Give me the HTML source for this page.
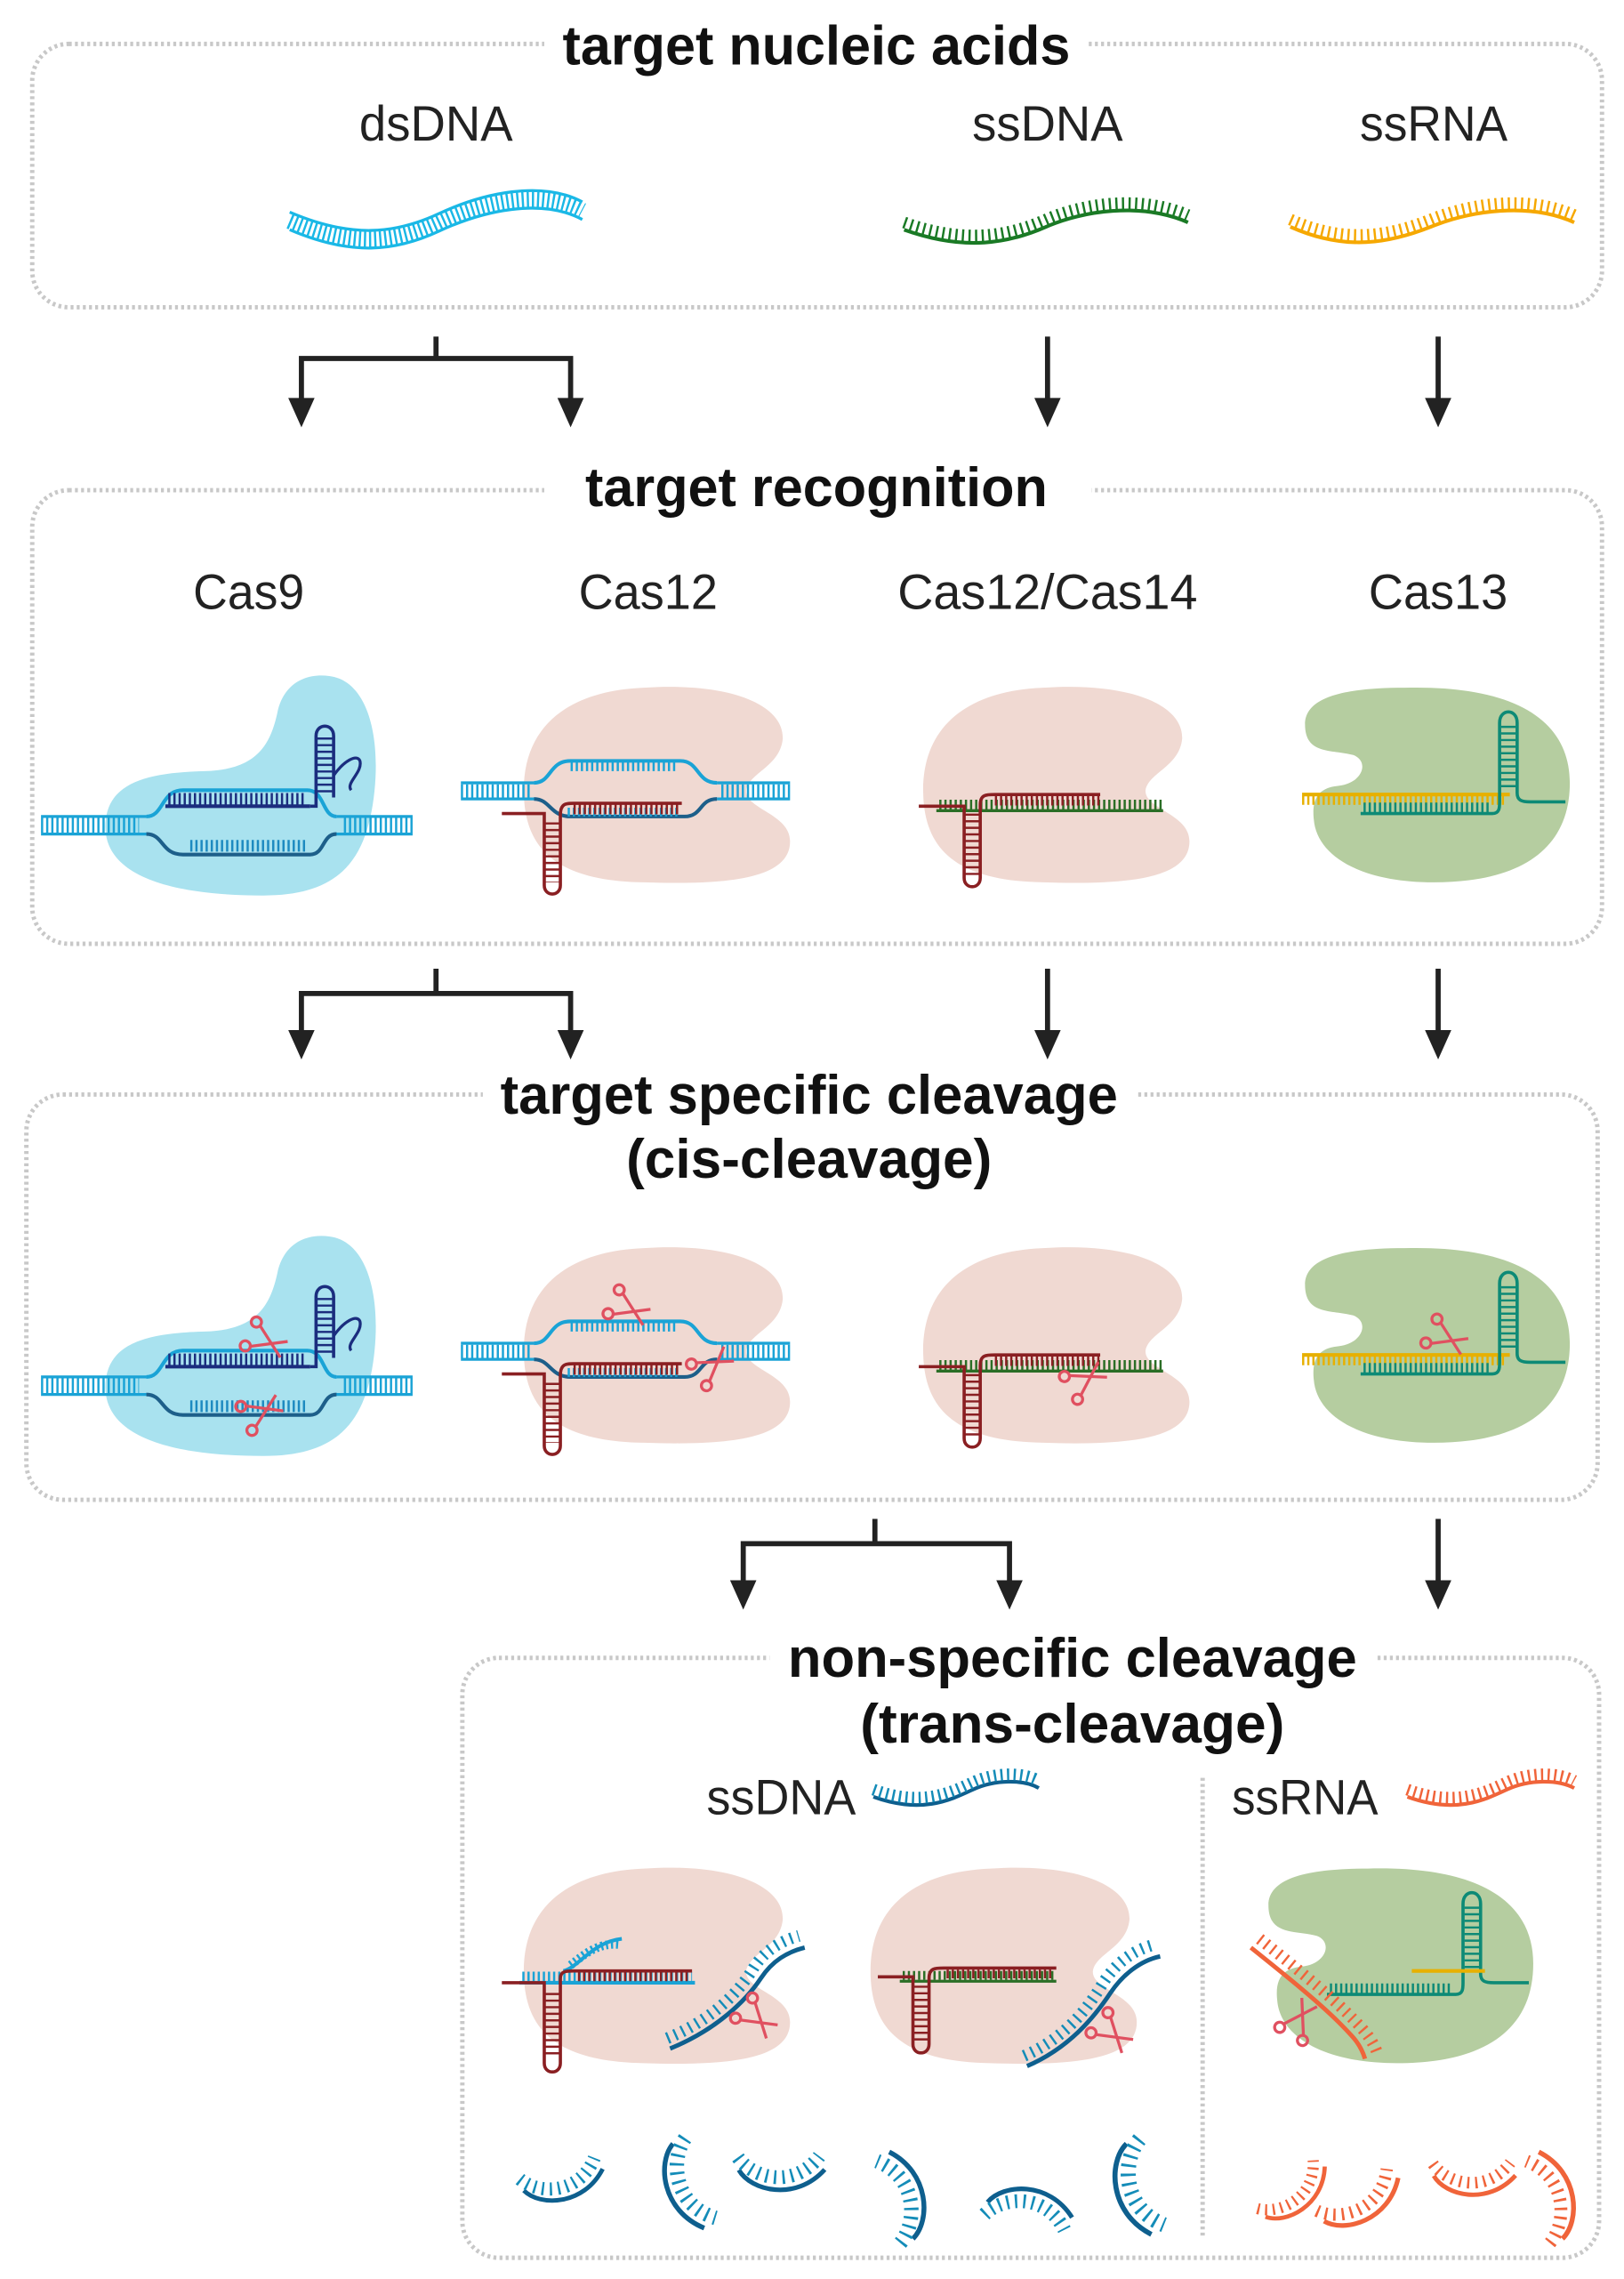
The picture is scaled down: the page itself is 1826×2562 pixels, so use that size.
<!DOCTYPE html>
<html><head><meta charset="utf-8"><style>
html,body{margin:0;padding:0;background:#fff}
svg{display:block}
.t{font-family:"Liberation Sans",sans-serif;font-weight:bold;font-size:38px;fill:#111}
.l{font-family:"Liberation Sans",sans-serif;font-size:34px;fill:#222}
.box{fill:none;stroke:#c8c8c8;stroke-width:3;stroke-dasharray:2 2.2}
.ar{stroke:#222;stroke-width:3.5;fill:none}
</style></head><body>
<svg width="1826" height="2562" viewBox="0 0 1110 1557.5" xmlns="http://www.w3.org/2000/svg">
<defs>
  <g id="scis" fill="none" stroke="#e05060" stroke-width="2">
    <line x1="-12" y1="-8" x2="10" y2="6"/><line x1="-12" y1="8" x2="10" y2="-6"/>
    <circle cx="-15" cy="-9" r="3.5"/><circle cx="-15" cy="9" r="3.5"/>
  </g>
  <path id="c12shape" d="M440 470 C500 466 536 482 535 505 C533 524 512 528 510 540 C509 553 540 556 540 575 C540 600 500 605 440 603 C380 602 358 580 358 540 C358 495 390 472 440 470 Z" fill="#f0d9d2"/>
  <path id="c9shape" d="M225 462 C250 465 260 500 256 540 C251 590 230 612 180 612 C120 612 72 600 72 565 C72 535 100 528 140 527 C175 526 185 510 190 485 C195 466 210 460 225 462 Z" fill="#a9e2ef"/>
  <path id="c13shape" d="M960 470 C1040 468 1073 495 1073 535 C1073 580 1040 603 980 603 C930 603 900 585 898 560 C896 542 905 538 915 537 C932 535 936 520 925 516 C910 512 892 516 892 495 C892 476 920 470 960 470 Z" fill="#b5cda0"/>

  <g id="cas9">
    <use href="#c9shape"/>
    <g stroke="#1aa3d6" fill="none">
      <line x1="28" y1="558" x2="100" y2="558" stroke-width="2"/><line x1="28" y1="570" x2="100" y2="570" stroke-width="2"/>
      <line x1="28" y1="564" x2="95" y2="564" stroke-width="10" stroke-dasharray="1.5 2"/>
      <line x1="230" y1="558" x2="282" y2="558" stroke-width="2"/><line x1="228" y1="570" x2="282" y2="570" stroke-width="2"/>
      <line x1="235" y1="564" x2="282" y2="564" stroke-width="10" stroke-dasharray="1.5 2"/>
      <path d="M100 558 C112 558 110 540 125 540 L210 540 C222 540 220 558 230 558" stroke-width="2.5"/>
      <path d="M100 570 C112 570 110 584 125 584 L212 584 C222 584 220 570 230 570" stroke="#1d5f8a" stroke-width="2.5"/>
      <line x1="130" y1="578" x2="210" y2="578" stroke="#1d8ac0" stroke-width="8" stroke-dasharray="1.5 2"/>
    </g>
    <g stroke="#1b2d7e" fill="none">
      <line x1="113" y1="551" x2="212" y2="551" stroke-width="2.5"/>
      <line x1="115" y1="546" x2="208" y2="546" stroke-width="8" stroke-dasharray="1.5 2"/>
      <path d="M212 551 L216 551 L216 503 C216 494 228 494 228 503 L228 545" stroke-width="2.2"/>
      <line x1="222" y1="504" x2="222" y2="542" stroke-width="10" stroke-dasharray="1.5 3"/>
      <path d="M228 530 C235 520 244 515 246 520 C248 528 236 535 240 540" stroke-width="2"/>
    </g>
  </g>
  <g id="cas12">
    <use href="#c12shape"/>
    <g stroke="#1aa3d6" fill="none">
      <line x1="315" y1="535" x2="365" y2="535" stroke-width="2"/><line x1="315" y1="546" x2="365" y2="546" stroke-width="2"/>
      <line x1="315" y1="540.5" x2="362" y2="540.5" stroke-width="9" stroke-dasharray="1.5 2"/>
      <line x1="490" y1="535" x2="540" y2="535" stroke-width="2"/><line x1="490" y1="546" x2="540" y2="546" stroke-width="2"/>
      <line x1="493" y1="540.5" x2="540" y2="540.5" stroke-width="9" stroke-dasharray="1.5 2"/>
      <path d="M365 535 C377 535 375 520 390 520 L465 520 C478 520 476 535 490 535" stroke-width="2.5"/>
      <line x1="390" y1="524" x2="462" y2="524" stroke-width="6" stroke-dasharray="1.5 2"/>
      <path d="M365 546 C376 546 376 558 390 558 L468 558 C480 558 478 546 490 546" stroke="#1d5f8a" stroke-width="2.5"/>
      <line x1="388" y1="555" x2="465" y2="555" stroke-width="6" stroke-dasharray="1.5 2"/>
    </g>
    <g stroke="#8a1f22" fill="none">
      <path d="M343 556 L372 556 L372 605 C372 613 383 613 383 605 L383 557 C383 549 387 549 392 549 L466 549" stroke-width="2.2"/>
      <line x1="377.5" y1="562" x2="377.5" y2="603" stroke-width="10" stroke-dasharray="1.5 3"/>
      <line x1="392" y1="553" x2="465" y2="553" stroke-width="7" stroke-dasharray="1.5 2"/>
    </g>
  </g>
  <g id="cas14">
    <use href="#c12shape" transform="translate(273 0)"/>
    <g stroke="#2b6e26" fill="none">
      <line x1="640" y1="554" x2="795" y2="554" stroke-width="2"/>
      <line x1="642" y1="550" x2="795" y2="550" stroke-width="7" stroke-dasharray="1.5 2"/>
    </g>
    <g stroke="#8a1f22" fill="none">
      <path d="M628 551 L659 551 L659 600 C659 608 670 608 670 600 L670 550 C670 543 674 543 680 543 L752 543" stroke-width="2.2"/>
      <line x1="664.5" y1="556" x2="664.5" y2="598" stroke-width="10" stroke-dasharray="1.5 3"/>
      <line x1="680" y1="547" x2="752" y2="547" stroke-width="7" stroke-dasharray="1.5 2"/>
    </g>
  </g>
  <g id="cas13">
    <use href="#c13shape"/>
    <g stroke="#e7b000" fill="none">
      <line x1="890" y1="543" x2="1032" y2="543" stroke-width="2.5"/>
      <line x1="890" y1="547" x2="1030" y2="547" stroke-width="6" stroke-dasharray="1.5 2"/>
    </g>
    <g stroke="#0d8a76" fill="none">
      <path d="M930 556 L1020 556 C1025 556 1025 552 1025 548 L1025 494 C1025 484 1037 484 1037 494 L1037 542 C1037 547 1040 548 1046 548 L1070 548" stroke-width="2.2"/>
      <line x1="1031" y1="496" x2="1031" y2="540" stroke-width="10" stroke-dasharray="1.5 3"/>
      <line x1="932" y1="552" x2="1018" y2="552" stroke-width="7" stroke-dasharray="1.5 2"/>
    </g>
  </g>
  <g id="frag">
    <path d="M0 0 C10 12 40 14 55 -10" fill="none" stroke="#0e5f8e" stroke-width="3"/>
    <path d="M-2 -8 C10 4 38 6 50 -18" fill="none" stroke="#148cb8" stroke-width="9" stroke-dasharray="1.5 4"/>
  </g>
  <g id="ofrag">
    <path d="M0 0 C10 12 40 14 55 -10" fill="none" stroke="#f0643a" stroke-width="3"/>
    <path d="M-2 -8 C10 4 38 6 50 -18" fill="none" stroke="#f0643a" stroke-width="8" stroke-dasharray="1.5 4"/>
  </g>
</defs>

<rect class="box" x="22" y="30" width="1073" height="180" rx="25"/>
<rect x="372" y="10" width="372" height="40" fill="#fff"/>
<text class="t" x="558" y="44" text-anchor="middle" textLength="347" lengthAdjust="spacingAndGlyphs">target nucleic acids</text>
<text class="l" x="298" y="96" text-anchor="middle" textLength="105" lengthAdjust="spacingAndGlyphs">dsDNA</text>
<text class="l" x="716" y="96" text-anchor="middle" textLength="103" lengthAdjust="spacingAndGlyphs">ssDNA</text>
<text class="l" x="980" y="96" text-anchor="middle" textLength="101" lengthAdjust="spacingAndGlyphs">ssRNA</text>
<g fill="none" stroke="#1ab8e6">
  <path d="M198 157 C240 175 270 172 300 158 C330 144 370 135 398 150" stroke-width="2"/>
  <path d="M198 145 C240 163 270 160 300 146 C330 132 370 123 398 138" stroke-width="2"/>
  <path d="M198 151 C240 169 270 166 300 152 C330 138 370 129 398 144" stroke-width="11" stroke-dasharray="1.5 2"/>
</g>
<g fill="none" stroke="#1a7a25">
  <path d="M618 157 C660 172 690 166 715 155 C740 144 780 138 812 152" stroke-width="2.5"/>
  <path d="M618 152 C660 167 690 161 715 150 C740 139 780 133 812 147" stroke-width="8" stroke-dasharray="1.5 3"/>
</g>
<g fill="none" stroke="#f6a800">
  <path d="M882 155 C920 172 950 166 978 155 C1005 144 1045 138 1076 152" stroke-width="2.5"/>
  <path d="M882 150 C920 167 950 161 978 150 C1005 139 1045 133 1076 147" stroke-width="8" stroke-dasharray="1.5 3"/>
</g>

<path class="ar" d="M298 230 V245 M206 275 V245 H390 V275 M716 230 V275 M983 230 V275"/>
<g fill="#222"><path d="M197 272 h18 l-9 20z"/><path d="M381 272 h18 l-9 20z"/><path d="M707 272 h18 l-9 20z"/><path d="M974 272 h18 l-9 20z"/></g>

<rect class="box" x="22" y="335" width="1073" height="310" rx="25"/>
<rect x="372" y="310" width="374" height="45" fill="#fff"/>
<text class="t" x="558" y="346" text-anchor="middle" textLength="316" lengthAdjust="spacingAndGlyphs">target recognition</text>
<text class="l" x="170" y="416" text-anchor="middle" textLength="76" lengthAdjust="spacingAndGlyphs">Cas9</text>
<text class="l" x="443" y="416" text-anchor="middle" textLength="95" lengthAdjust="spacingAndGlyphs">Cas12</text>
<text class="l" x="716" y="416" text-anchor="middle" textLength="205" lengthAdjust="spacingAndGlyphs">Cas12/Cas14</text>
<text class="l" x="983" y="416" text-anchor="middle" textLength="95" lengthAdjust="spacingAndGlyphs">Cas13</text>
<use href="#cas9"/><use href="#cas12"/><use href="#cas14"/><use href="#cas13"/>

<path class="ar" d="M298 662 V679 M206 707 V679 H390 V707 M716 662 V707 M983 662 V707"/>
<g fill="#222"><path d="M197 704 h18 l-9 20z"/><path d="M381 704 h18 l-9 20z"/><path d="M707 704 h18 l-9 20z"/><path d="M974 704 h18 l-9 20z"/></g>

<rect class="box" x="18" y="748" width="1074" height="277" rx="25"/>
<rect x="330" y="725" width="446" height="40" fill="#fff"/>
<text class="t" x="553" y="761" text-anchor="middle" textLength="422" lengthAdjust="spacingAndGlyphs">target specific cleavage</text>
<text class="t" x="553" y="805" text-anchor="middle" textLength="250" lengthAdjust="spacingAndGlyphs">(cis-cleavage)</text>
<g transform="translate(0 383)">
  <use href="#cas9"/><use href="#cas12"/><use href="#cas14"/><use href="#cas13"/>
  <use href="#scis" transform="translate(185 535) rotate(25)"/>
  <use href="#scis" transform="translate(182 580) rotate(-25)"/>
  <use href="#scis" transform="translate(433 513) rotate(25)"/>
  <use href="#scis" transform="translate(490 548) rotate(-35)"/>
  <use href="#scis" transform="translate(745 558) rotate(-30)"/>
  <use href="#scis" transform="translate(992 533) rotate(25)"/>
</g>

<path class="ar" d="M598 1038 V1055 M508 1082 V1055 H690 V1082 M983 1038 V1082"/>
<g fill="#222"><path d="M499 1080 h18 l-9 20z"/><path d="M681 1080 h18 l-9 20z"/><path d="M974 1080 h18 l-9 20z"/></g>

<rect class="box" x="316" y="1133" width="777" height="410" rx="25"/>
<rect x="526" y="1110" width="414" height="42" fill="#fff"/>
<text class="t" x="733" y="1146" text-anchor="middle" textLength="389" lengthAdjust="spacingAndGlyphs">non-specific cleavage</text>
<text class="t" x="733" y="1191" text-anchor="middle" textLength="290" lengthAdjust="spacingAndGlyphs">(trans-cleavage)</text>
<line x1="822" y1="1215" x2="822" y2="1530" class="box"/>
<text class="l" x="534" y="1240" text-anchor="middle" textLength="102" lengthAdjust="spacingAndGlyphs">ssDNA</text>
<text class="l" x="892" y="1240" text-anchor="middle" textLength="100" lengthAdjust="spacingAndGlyphs">ssRNA</text>
<g fill="none">
  <path d="M597 1228 C630 1240 650 1230 665 1223 C680 1216 700 1216 710 1222" stroke="#0e5f8e" stroke-width="2.5"/>
  <path d="M597 1223 C630 1235 650 1225 665 1218 C680 1211 700 1211 710 1217" stroke="#148cb8" stroke-width="8" stroke-dasharray="1.5 3"/>
  <path d="M962 1228 C995 1240 1015 1230 1030 1223 C1045 1216 1065 1216 1076 1222" stroke="#f0643a" stroke-width="2.5"/>
  <path d="M962 1223 C995 1235 1015 1225 1030 1218 C1045 1211 1065 1211 1076 1217" stroke="#f0643a" stroke-width="8" stroke-dasharray="1.5 3"/>
</g>

<g transform="translate(0 807)">
  <use href="#c12shape"/>
  <g fill="none">
    <line x1="355" y1="548" x2="475" y2="548" stroke="#1aa3d6" stroke-width="2.5"/>
    <line x1="357" y1="544" x2="473" y2="544" stroke="#1aa3d6" stroke-width="7" stroke-dasharray="1.5 2"/>
    <path d="M385 540 C395 538 405 520 425 518" stroke="#1aa3d6" stroke-width="2.5"/>
    <path d="M390 536 C398 530 408 520 424 522" stroke="#1aa3d6" stroke-width="6" stroke-dasharray="1.5 2"/>
    <path d="M343 548 L372 548 L372 603 C372 611 383 611 383 603 L383 545 C383 540 387 540 392 540 L473 540" stroke="#8a1f22" stroke-width="2.2"/>
    <line x1="377.5" y1="555" x2="377.5" y2="600" stroke="#8a1f22" stroke-width="10" stroke-dasharray="1.5 3"/>
    <line x1="395" y1="544" x2="472" y2="544" stroke="#8a1f22" stroke-width="6" stroke-dasharray="1.5 2"/>
    <path d="M458 593 C490 580 510 560 520 545 C528 533 538 527 550 524" stroke="#0e5f8e" stroke-width="3"/>
    <path d="M456 586 C488 573 506 553 515 538 C522 527 532 520 546 516" stroke="#148cb8" stroke-width="8" stroke-dasharray="1.5 4"/>
  </g>
  <use href="#scis" transform="translate(520 575) rotate(40)"/>
</g>
<g transform="translate(237 807)">
  <use href="#c12shape"/>
  <g fill="none">
    <line x1="378" y1="547" x2="485" y2="547" stroke="#2b6e26" stroke-width="2"/>
    <line x1="380" y1="543" x2="485" y2="543" stroke="#2b6e26" stroke-width="6" stroke-dasharray="1.5 2"/>
    <path d="M363 544 L387 544 L387 590 C387 598 398 598 398 590 L398 545 C398 538 402 538 408 538 L485 538" stroke="#8a1f22" stroke-width="2.2"/>
    <line x1="392.5" y1="550" x2="392.5" y2="588" stroke="#8a1f22" stroke-width="10" stroke-dasharray="1.5 3"/>
    <line x1="410" y1="542" x2="483" y2="542" stroke="#8a1f22" stroke-width="6" stroke-dasharray="1.5 2"/>
    <path d="M465 605 C495 592 512 570 522 555 C530 543 542 533 556 530" stroke="#0e5f8e" stroke-width="3"/>
    <path d="M463 598 C493 585 508 563 517 548 C525 536 536 526 552 522" stroke="#148cb8" stroke-width="8" stroke-dasharray="1.5 4"/>
  </g>
  <use href="#scis" transform="translate(526 585) rotate(40)"/>
</g>
<g transform="translate(-25 807)">
  <use href="#c13shape"/>
  <g fill="none">
    <path d="M932 556 L1020 556 C1025 556 1025 552 1025 548 L1025 494 C1025 484 1037 484 1037 494 L1037 542 C1037 547 1040 548 1046 548 L1070 548" stroke="#0d8a76" stroke-width="2.2"/>
    <line x1="1031" y1="496" x2="1031" y2="540" stroke="#0d8a76" stroke-width="10" stroke-dasharray="1.5 3"/>
    <line x1="934" y1="552" x2="1018" y2="552" stroke="#0d8a76" stroke-width="7" stroke-dasharray="1.5 2"/>
    <line x1="990" y1="540" x2="1040" y2="540" stroke="#e7b000" stroke-width="2.5"/>
    <path d="M880 524 C900 540 925 560 940 575 C950 585 955 590 958 600" stroke="#f0643a" stroke-width="3"/>
    <path d="M886 518 C906 534 931 554 946 569 C956 579 962 585 966 595" stroke="#f0643a" stroke-width="8" stroke-dasharray="1.5 4"/>
  </g>
  <use href="#scis" transform="translate(915 570) rotate(-60)"/>
</g>

<use href="#frag" transform="translate(358 1497) rotate(-5)"/>
<use href="#frag" transform="translate(460 1465) rotate(80) scale(1.1)"/>
<use href="#frag" transform="translate(505 1483) rotate(10) scale(1.05)"/>
<use href="#frag" transform="translate(624 1530) rotate(-95) scale(1.1)"/>
<use href="#frag" transform="translate(675 1505) rotate(180) scale(-1.05 1.05)"/>
<use href="#frag" transform="translate(770 1465) rotate(85) scale(1.15)"/>
<use href="#ofrag" transform="translate(865 1515) rotate(-30) scale(0.95)"/>
<use href="#ofrag" transform="translate(905 1518) rotate(-20) scale(1.05)"/>
<use href="#ofrag" transform="translate(980 1487) rotate(10)"/>
<use href="#ofrag" transform="translate(1068 1530) rotate(-95) scale(1.1)"/>
</svg>
</body></html>
